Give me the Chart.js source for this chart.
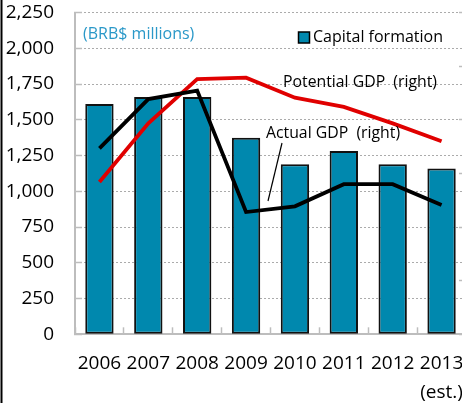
<!DOCTYPE html>
<html><head><meta charset="utf-8">
<script src="https://cdn.jsdelivr.net/npm/chart.js@4"></script>
<style>
html,body{margin:0;padding:0;overflow:hidden;background:#fff;width:462px;height:403px}
#wrap{position:relative;width:540px;height:403px}
</style>
</head><body><div id="wrap"><canvas id="c" width="540" height="403"></canvas></div>
<script>
// ---- data ----
const years = ["2006","2007","2008","2009","2010","2011","2012",["2013","(est.)"]];
const capitalFormation = [1610,1660,1660,1375,1190,1282,1190,1160];
const actualGDP = [1300,1645,1705,855,895,1050,1050,905];      // right axis
const potentialGDP = [1065,1475,1785,1795,1655,1590,1475,1350]; // right axis
const leftAxis = {min:0, max:2250, step:250};
const rightAxis = {min:0, max:2250, step:375};
const unitLabel = "(BRB$ millions)";
const barLabel = "Capital formation";
const potentialLabel = "Potential GDP  (right)";
const actualLabel = "Actual GDP  (right)";

const FONT = "'Open Sans', 'Noto Sans', sans-serif";
const TEAL = "#0088ae";
const GRID = "#ababab";
const AXIS = "#bdbdbd";

const overlay = {
  id: 'overlay',
  afterDatasetsDraw(chart) {
    const ctx = chart.ctx, a = chart.chartArea;
    ctx.save();
    ctx.font = "16px " + FONT;
    ctx.fillStyle = "#2a98c8";
    ctx.textBaseline = "middle";
    ctx.textAlign = "left";
    ctx.fillText(unitLabel, a.left + 8, 34);
    ctx.fillStyle = TEAL;
    ctx.fillRect(298.5, 32, 11, 11);
    ctx.lineWidth = 1.5; ctx.strokeStyle = "#000";
    ctx.strokeRect(298.5, 32, 11, 11);
    ctx.fillStyle = "#000";
    ctx.font = "16px " + FONT;
    ctx.fillText(barLabel, 313, 37.5);
    ctx.font = "15.8px " + FONT;
    ctx.fillText(potentialLabel, 283, 82.5);
    ctx.fillText(actualLabel, 266, 133);
    ctx.beginPath();
    ctx.lineWidth = 1.2;
    ctx.moveTo(282, 143); ctx.lineTo(268, 201);
    ctx.stroke();
    ctx.beginPath();
    ctx.lineWidth = 2;
    ctx.moveTo(1.5, 0); ctx.lineTo(1.5, chart.height);
    ctx.stroke();
    ctx.restore();
  }
};

function noVPad(s){ s.paddingTop = 0; s.paddingBottom = 0; }

new Chart(document.getElementById('c'), {
  type: 'bar',
  data: {
    labels: years,
    datasets: [
      {type:'line', label: actualLabel, data: actualGDP, yAxisID:'y1', borderColor:'#000', borderWidth:3.8, pointRadius:0, tension:0, order:1},
      {type:'line', label: potentialLabel, data: potentialGDP, yAxisID:'y1', borderColor:'#e00000', borderWidth:3.8, pointRadius:0, tension:0, order:2},
      {type:'bar', label: barLabel, data: capitalFormation, yAxisID:'y', backgroundColor:TEAL, borderColor:'#111', borderWidth:2, borderSkipped:false, barPercentage:0.58, categoryPercentage:1, order:3}
    ]
  },
  options: {
    responsive:false, animation:false, devicePixelRatio:1,
    layout:{padding:{top:12.6, left:0, right:0, bottom:0}},
    plugins:{legend:{display:false}, tooltip:{enabled:false}, title:{display:false}},
    scales:{
      x:{
        grid:{display:true, drawOnChartArea:false, drawTicks:true, tickLength:-7, tickColor:AXIS, tickWidth:1.5, offset:true},
        border:{display:true, color:AXIS, width:2},
        ticks:{color:'#000', font:{family:FONT, size:19, lineHeight:1.55}, padding:21.5, autoSkip:false, maxRotation:0, minRotation:0},
        afterFit(s){ s.height = 403 - 334.3; }
      },
      y:{
        position:'left', min:leftAxis.min, max:leftAxis.max,
        grid:{color:GRID, lineWidth:1, drawTicks:true, tickLength:-7, tickColor:AXIS, tickWidth:1.5, tickBorderDash:[]},
        border:{display:true, color:AXIS, width:2, dash:[2,2]},
        ticks:{stepSize:leftAxis.step, color:'#000', font:{family:FONT, size:19}, padding:28,
          callback:(v)=>v.toLocaleString('en-US')},
        afterFit(s){ s.width = 75; noVPad(s); }
      },
      y1:{
        position:'right', min:rightAxis.min, max:rightAxis.max,
        grid:{drawOnChartArea:false, drawTicks:true, tickLength:-7, tickColor:AXIS, tickWidth:1.5},
        border:{display:true, color:AXIS, width:2},
        ticks:{stepSize:rightAxis.step, color:'#000', font:{family:FONT, size:19}, padding:28,
          callback:(v)=>v.toLocaleString('en-US')},
        afterFit(s){ s.width = 74; noVPad(s); }
      }
    }
  },
  plugins:[overlay]
});
</script></body></html>
